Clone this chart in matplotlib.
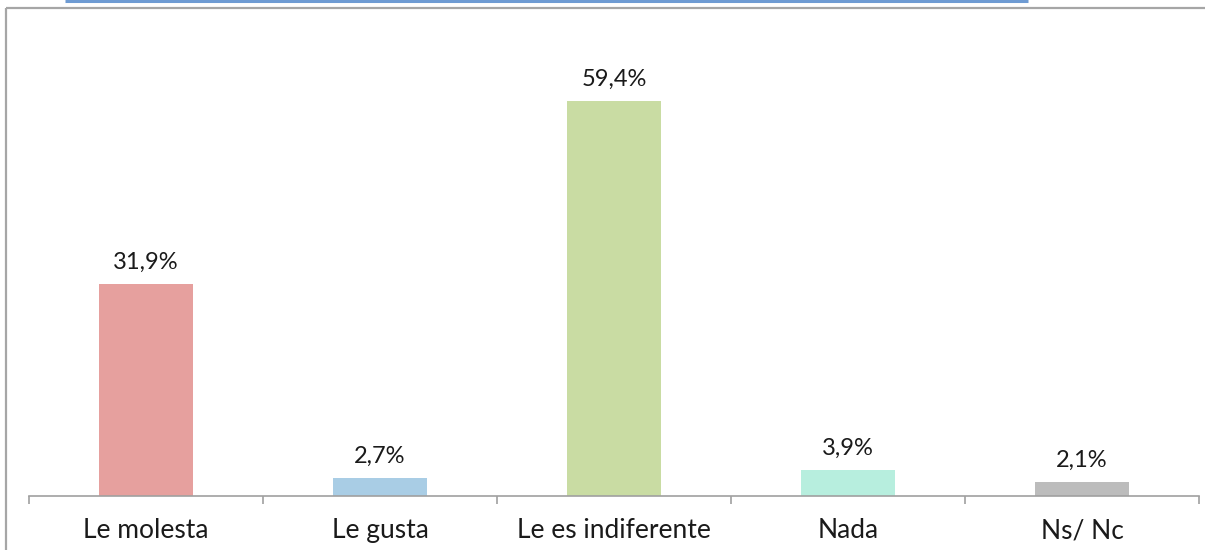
import matplotlib
matplotlib.use("Agg")
import matplotlib.pyplot as plt
from matplotlib.lines import Line2D

categories = ["Le molesta", "Le gusta", "Le es indiferente", "Nada", "Ns/ Nc"]
values = [31.9, 2.7, 59.4, 3.9, 2.1]
labels = ["31,9%", "2,7%", "59,4%", "3,9%", "2,1%"]
colors = ["#E6A09E", "#A9CDE5", "#C9DCA3", "#B7EEDE", "#BCBCBC"]

plt.rcParams['font.family'] = ['Lato', 'DejaVu Sans']

W, H = 1205, 550
fig = plt.figure(figsize=(W / 100, H / 100), dpi=100)
fig.patch.set_facecolor("white")

# outer border: left and top only, plus top blue line
fig.add_artist(Line2D([6 / W, 6 / W], [0, 1 - 8 / H], transform=fig.transFigure,
                      color="#A6A6A6", lw=1.6, solid_capstyle="butt"))
fig.add_artist(Line2D([6 / W, 1.0], [1 - 8 / H, 1 - 8 / H], transform=fig.transFigure,
                      color="#A6A6A6", lw=1.6, solid_capstyle="butt"))
fig.add_artist(Line2D([65 / W, 1028 / W], [1 - 0.8 / H, 1 - 0.8 / H], transform=fig.transFigure,
                      color="#6E9BD3", lw=2.2, solid_capstyle="butt"))

ax = fig.add_axes([29 / W, 54 / H, (1199 - 29) / W, (496 - 20) / H])
x = list(range(len(categories)))
ax.bar(x, values, width=0.4, color=colors, zorder=2)
ax.set_xlim(-0.5, len(categories) - 0.5)
ax.set_ylim(0, 476 / 6.65)

for xi, v, lab in zip(x, values, labels):
    ax.annotate(lab, (xi, v), xytext=(0, 8), textcoords="offset points",
                ha="center", va="bottom", fontsize=17, color="#1a1a1a")

for s in ["top", "right", "left"]:
    ax.spines[s].set_visible(False)
ax.spines["bottom"].set_color("#A0A0A0")
ax.spines["bottom"].set_linewidth(1.2)
ax.set_yticks([])
ax.set_xticks([i - 0.5 for i in range(len(categories) + 1)], minor=False)
ax.set_xticklabels([])
ax.tick_params(axis="x", which="major", length=6, color="#A0A0A0", width=1.2)
ax.set_xticks(x, minor=True)
ax.set_xticklabels(categories, minor=True)
ax.tick_params(axis="x", which="minor", length=0, pad=16, labelsize=19, labelcolor="#1a1a1a")

fig.savefig("out.png", dpi=100, facecolor="white")
